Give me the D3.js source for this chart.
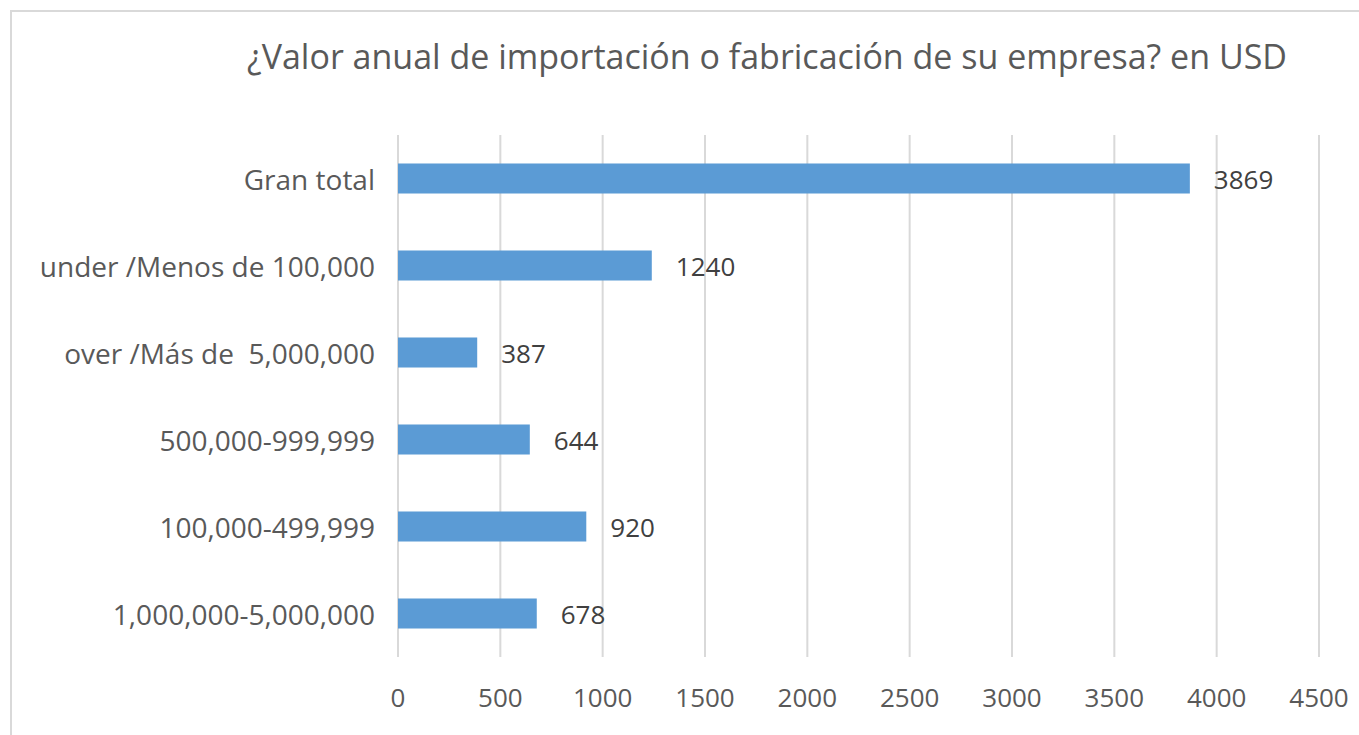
<!DOCTYPE html>
<html>
<head>
<meta charset="utf-8">
<script src="https://cdn.jsdelivr.net/npm/d3@7"></script>
<style>
  body { margin: 0; background: #fff; }
  text { font-family: "Open Sans", "Noto Sans", sans-serif; fill: #595959; white-space: pre; }
</style>
</head>
<body>
<div id="container"></div>
<script>
const categories = [
  'Gran total',
  'under /Menos de 100,000',
  'over /Más de  5,000,000',
  '500,000-999,999',
  '100,000-499,999',
  '1,000,000-5,000,000'
];
const values = [3869, 1240, 387, 644, 920, 678];
const xTicks = [0, 500, 1000, 1500, 2000, 2500, 3000, 3500, 4000, 4500];

const WIDTH = 1359;
const HEIGHT = 735;
const PLOT = { left: 398, right: 1319, top: 135, bottom: 657 };

const svg = d3.select('#container')
  .append('svg')
  .attr('width', WIDTH)
  .attr('height', HEIGHT);

// chart border
svg.append('rect')
  .attr('x', 11)
  .attr('y', 11)
  .attr('width', WIDTH + 20)
  .attr('height', HEIGHT + 20)
  .style('fill', 'white')
  .style('stroke', '#d9d9d9')
  .style('stroke-width', 2);

svg.append('text')
  .attr('x', 767)
  .attr('y', 56)
  .attr('text-anchor', 'middle')
  .attr('dominant-baseline', 'central')
  .style('font-size', '34px')
  .text('¿Valor anual de importación o fabricación de su empresa? en USD');

const x = d3.scaleLinear()
  .domain([0, 4500])
  .range([PLOT.left, PLOT.right]);

const y = d3.scaleBand()
  .domain(categories)
  .range([PLOT.top, PLOT.bottom])
  .paddingInner(0.655)
  .paddingOuter(0.3275);

// gridlines
svg.append('g')
  .selectAll('line')
  .data(xTicks)
  .join('line')
  .attr('x1', d => x(d))
  .attr('x2', d => x(d))
  .attr('y1', PLOT.top)
  .attr('y2', PLOT.bottom)
  .style('stroke', '#d9d9d9')
  .style('stroke-width', 2);

// tick labels
svg.append('g')
  .selectAll('text')
  .data(xTicks)
  .join('text')
  .attr('x', d => x(d))
  .attr('y', 697)
  .attr('text-anchor', 'middle')
  .attr('dominant-baseline', 'central')
  .style('font-size', '26px')
  .text(d => d);

// bars
svg.append('g')
  .selectAll('rect')
  .data(values)
  .join('rect')
  .attr('x', x(0))
  .attr('y', (d, i) => y(categories[i]))
  .attr('width', d => x(d) - x(0))
  .attr('height', y.bandwidth())
  .style('fill', '#5b9bd5');

// value labels
svg.append('g')
  .selectAll('text')
  .data(values)
  .join('text')
  .attr('x', d => x(d) + 24)
  .attr('y', (d, i) => y(categories[i]) + y.bandwidth() / 2)
  .attr('dominant-baseline', 'central')
  .style('font-size', '26px')
  .style('fill', '#404040')
  .text(d => d);

// category labels
svg.append('g')
  .selectAll('text')
  .data(categories)
  .join('text')
  .attr('x', 375)
  .attr('y', d => y(d) + y.bandwidth() / 2)
  .attr('text-anchor', 'end')
  .attr('dominant-baseline', 'central')
  .style('font-size', '28px')
  .text(d => d);
</script>
</body>
</html>
